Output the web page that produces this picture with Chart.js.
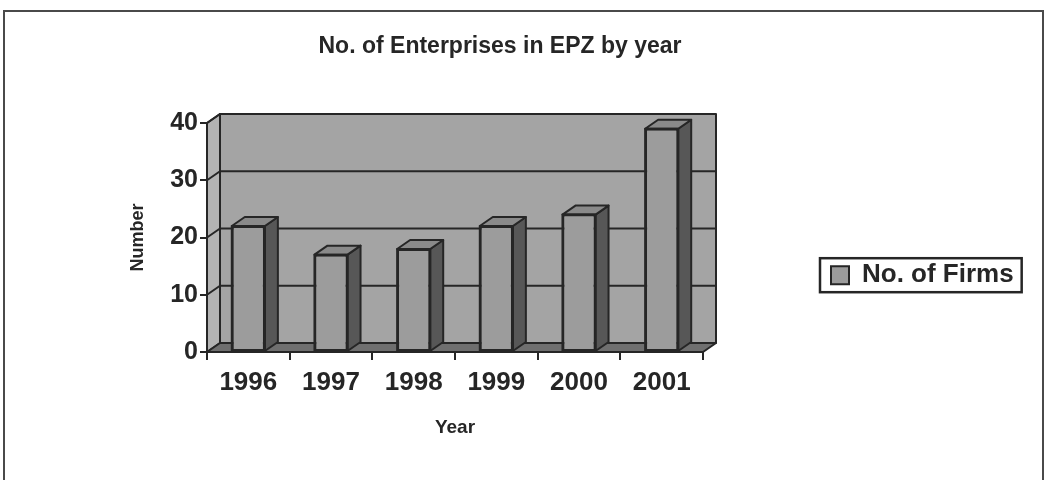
<!DOCTYPE html>
<html>
<head>
<meta charset="utf-8">
<title>No. of Enterprises in EPZ by year</title>
<script src="https://cdn.jsdelivr.net/npm/chart.js@4.4.1/dist/chart.umd.min.js"></script>
<style>
  html, body { margin: 0; padding: 0; background: #fff; }
  canvas { display: block; }
</style>
</head>
<body>
<canvas id="epzChart" width="1048" height="480"></canvas>
<script>
var years = ['1996', '1997', '1998', '1999', '2000', '2001'];
var firms = [22, 17, 18, 22, 24, 39];
var yTicks = [0, 10, 20, 30, 40];

var ink = '#262626';
var depthX = 13, depthY = 9;

function poly(c, pts, fill) {
    c.beginPath();
    c.moveTo(pts[0][0], pts[0][1]);
    for (var i = 1; i < pts.length; i++) c.lineTo(pts[i][0], pts[i][1]);
    c.closePath();
    if (fill) { c.fillStyle = fill; c.fill(); }
    c.stroke();
}

// page frame, back wall, side wall, floor and the gridlines on the back wall
var box3d = {
    id: 'box3d',
    beforeDraw: function (chart) {
        var c = chart.ctx, a = chart.chartArea, y = chart.scales.y;
        var l = a.left, r = a.right;
        var t = y.getPixelForValue(yTicks[yTicks.length - 1]);
        var b = y.getPixelForValue(0);
        c.save();
        c.fillStyle = '#fff';
        c.fillRect(0, 0, chart.width, chart.height);
        c.strokeStyle = '#4a4a4a';
        c.lineWidth = 2;
        c.strokeRect(4, 11, chart.width - 9, chart.height + 20);

        c.strokeStyle = ink;
        c.lineWidth = 2;
        c.lineJoin = 'round';
        poly(c, [[l + depthX, t - depthY], [r + depthX, t - depthY], [r + depthX, b - depthY], [l + depthX, b - depthY]], '#a4a4a4');
        poly(c, [[l, b], [l, t], [l + depthX, t - depthY], [l + depthX, b - depthY]], '#b3b3b3');
        poly(c, [[l, b], [r, b], [r + depthX, b - depthY], [l + depthX, b - depthY]], '#6f6f6f');

        yTicks.forEach(function (v) {
            if (v === 0) return;
            var py = y.getPixelForValue(v);
            c.beginPath();
            c.moveTo(l, py);
            c.lineTo(l + depthX, py - depthY);
            c.lineTo(r + depthX, py - depthY);
            c.stroke();
        });
        c.restore();
    },
    // top and side faces of each bar
    afterDatasetsDraw: function (chart) {
        var c = chart.ctx;
        c.save();
        c.strokeStyle = ink;
        c.lineWidth = 2;
        c.lineJoin = 'round';
        chart.getDatasetMeta(0).data.forEach(function (bar) {
            var p = bar.getProps(['x', 'y', 'base', 'width'], true);
            var x0 = p.x - p.width / 2, x1 = p.x + p.width / 2;
            poly(c, [[x1, p.y], [x1 + depthX, p.y - depthY], [x1 + depthX, p.base - depthY], [x1, p.base]], '#575757');
            poly(c, [[x0, p.y], [x0 + depthX, p.y - depthY], [x1 + depthX, p.y - depthY], [x1, p.y]], '#8a8a8a');
            c.beginPath();
            c.rect(x0, p.y, p.width, p.base - p.y);
            c.stroke();
        });
        c.restore();
    },
    // frame round the legend
    afterDraw: function (chart) {
        var hb = chart.legend.legendHitBoxes[0];
        if (!hb) return;
        var c = chart.ctx;
        c.save();
        c.strokeStyle = ink;
        c.lineWidth = 2.5;
        c.strokeRect(hb.left - 11, hb.top - 4, hb.width + 19, hb.height + 8);
        c.restore();
    }
};

Chart.defaults.font.family = '"Liberation Sans", Arial, sans-serif';
Chart.defaults.color = ink;

var ctx = document.getElementById('epzChart').getContext('2d');
var chart = new Chart(ctx, {
    type: 'bar',
    data: {
        labels: years,
        datasets: [{
            label: 'No. of Firms',
            data: firms,
            backgroundColor: '#9c9c9c',
            borderColor: ink,
            borderWidth: 2,
            borderSkipped: false,
            categoryPercentage: 1,
            barPercentage: 0.4
        }]
    },
    options: {
        responsive: false,
        animation: false,
        layout: { padding: { left: -23, right: 25, top: 0, bottom: 0 } },
        plugins: {
            title: {
                display: true,
                text: 'No. of Enterprises in EPZ by year',
                color: ink,
                font: { size: 23, weight: 'bold' },
                padding: { top: 33, bottom: 62.4 }
            },
            legend: {
                position: 'right',
                align: 'start',
                fullSize: false,
                maxWidth: 320,
                title: { display: true, text: '', font: { size: 1 }, padding: { top: 10, bottom: 0 } },
                labels: {
                    font: { size: 26, weight: 'bold' },
                    color: ink,
                    boxWidth: 18,
                    boxHeight: 18,
                    padding: 128
                }
            },
            tooltip: { enabled: false }
        },
        scales: {
            x: {
                afterFit: function (s) { s.height = 128; },
                grid: { drawOnChartArea: false, drawTicks: true, tickLength: 8, color: ink, lineWidth: 2 },
                border: { display: true, color: ink, width: 2 },
                ticks: { font: { size: 26, weight: 'bold' }, color: ink, padding: 7, maxRotation: 0, autoSkip: false },
                title: {
                    display: true,
                    text: 'Year',
                    color: ink,
                    font: { size: 19, weight: 'bold' },
                    padding: { top: 0, bottom: 41 }
                }
            },
            y: {
                min: yTicks[0],
                max: yTicks[yTicks.length - 1],
                afterFit: function (s) { s.width = 230; },
                grid: { drawOnChartArea: false, drawTicks: true, tickLength: 7, color: ink, lineWidth: 2 },
                border: { display: true, color: ink, width: 2 },
                ticks: { stepSize: 10, font: { size: 25, weight: 'bold' }, color: ink, padding: 2 },
                title: {
                    display: true,
                    text: 'Number',
                    color: ink,
                    font: { size: 18, weight: 'bold' },
                    padding: { top: 150, bottom: 4 }
                }
            }
        }
    },
    plugins: [box3d]
});
</script>
</body>
</html>
